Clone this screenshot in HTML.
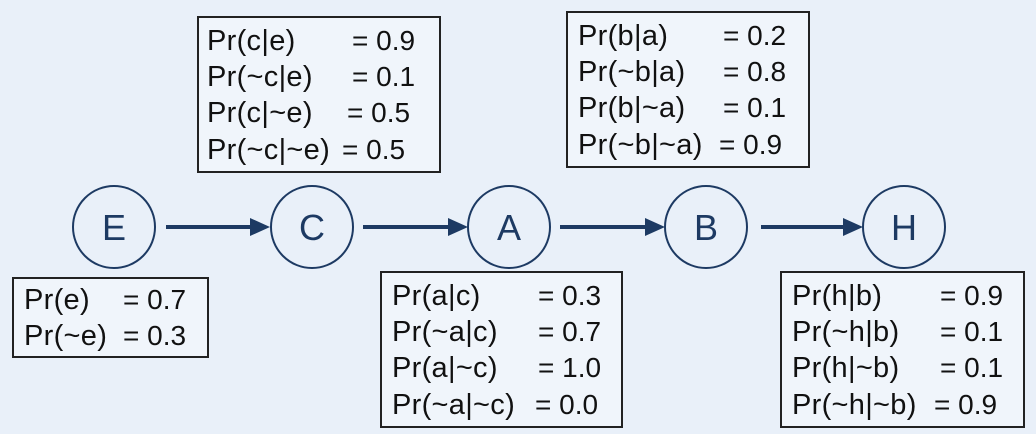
<!DOCTYPE html>
<html><head><meta charset="utf-8"><style>
body{margin:0;width:1036px;height:434px;background:#e9f0f9;position:relative;overflow:hidden;font-family:"Liberation Sans",sans-serif;color:#111}
.box{position:absolute;border:2px solid #222;background:#f0f5fb;box-sizing:border-box}
.r{position:absolute;font-size:29px;line-height:30px;white-space:nowrap;letter-spacing:0.3px}
.v{font-size:28px;letter-spacing:0}
</style></head><body>
<svg width="1036" height="434" style="position:absolute;left:0;top:0">
<g fill="none" stroke="#1d3a63" stroke-width="2">
<circle cx="114" cy="227" r="41"/><circle cx="312" cy="227" r="41"/><circle cx="509" cy="227" r="41"/><circle cx="706" cy="227" r="41"/><circle cx="904" cy="227" r="41"/>
</g>
<g stroke="#1d3a63" stroke-width="4">
<line x1="166" y1="227" x2="252" y2="227"/><line x1="363" y1="227" x2="450" y2="227"/><line x1="560" y1="227" x2="647" y2="227"/><line x1="761" y1="227" x2="845" y2="227"/>
</g>
<g fill="#1d3a63">
<path d="M250,218 L270,227 L250,236z"/><path d="M448,218 L468,227 L448,236z"/><path d="M645,218 L665,227 L645,236z"/><path d="M843,218 L863,227 L843,236z"/>
</g>
<g font-family="Liberation Sans" font-size="36" fill="#1d3a63" text-anchor="middle">
<text x="114" y="240">E</text><text x="312" y="240">C</text><text x="509" y="240">A</text><text x="706" y="240">B</text><text x="904" y="240">H</text>
</g>
</svg>
<div class="box" style="left:12px;top:277px;width:197px;height:81px"></div>
<div class="r" style="left:24px;top:285px">Pr(e)</div><div class="r v" style="left:123px;top:285px">= 0.7</div>
<div class="r" style="left:24px;top:321px">Pr(~e)</div><div class="r v" style="left:123px;top:321px">= 0.3</div>

<div class="box" style="left:197px;top:16px;width:244px;height:157px"></div>
<div class="r" style="left:207px;top:26px">Pr(c|e)</div><div class="r v" style="left:352px;top:26px">= 0.9</div>
<div class="r" style="left:207px;top:62px">Pr(~c|e)</div><div class="r v" style="left:352px;top:62px">= 0.1</div>
<div class="r" style="left:207px;top:98px">Pr(c|~e)</div><div class="r v" style="left:347px;top:98px">= 0.5</div>
<div class="r" style="left:207px;top:135px">Pr(~c|~e)</div><div class="r v" style="left:342px;top:135px">= 0.5</div>

<div class="box" style="left:566px;top:11px;width:244px;height:157px"></div>
<div class="r" style="left:578px;top:21px">Pr(b|a)</div><div class="r v" style="left:723px;top:21px">= 0.2</div>
<div class="r" style="left:578px;top:57px">Pr(~b|a)</div><div class="r v" style="left:723px;top:57px">= 0.8</div>
<div class="r" style="left:578px;top:93px">Pr(b|~a)</div><div class="r v" style="left:723px;top:93px">= 0.1</div>
<div class="r" style="left:578px;top:130px">Pr(~b|~a)</div><div class="r v" style="left:719px;top:130px">= 0.9</div>

<div class="box" style="left:380px;top:271px;width:243px;height:157px"></div>
<div class="r" style="left:392px;top:281px">Pr(a|c)</div><div class="r v" style="left:538px;top:281px">= 0.3</div>
<div class="r" style="left:392px;top:317px">Pr(~a|c)</div><div class="r v" style="left:538px;top:317px">= 0.7</div>
<div class="r" style="left:392px;top:353px">Pr(a|~c)</div><div class="r v" style="left:538px;top:353px">= 1.0</div>
<div class="r" style="left:392px;top:390px">Pr(~a|~c)</div><div class="r v" style="left:535px;top:390px">= 0.0</div>

<div class="box" style="left:780px;top:271px;width:245px;height:157px"></div>
<div class="r" style="left:792px;top:281px">Pr(h|b)</div><div class="r v" style="left:940px;top:281px">= 0.9</div>
<div class="r" style="left:792px;top:317px">Pr(~h|b)</div><div class="r v" style="left:940px;top:317px">= 0.1</div>
<div class="r" style="left:792px;top:353px">Pr(h|~b)</div><div class="r v" style="left:940px;top:353px">= 0.1</div>
<div class="r" style="left:792px;top:390px">Pr(~h|~b)</div><div class="r v" style="left:934px;top:390px">= 0.9</div>
</body></html>
